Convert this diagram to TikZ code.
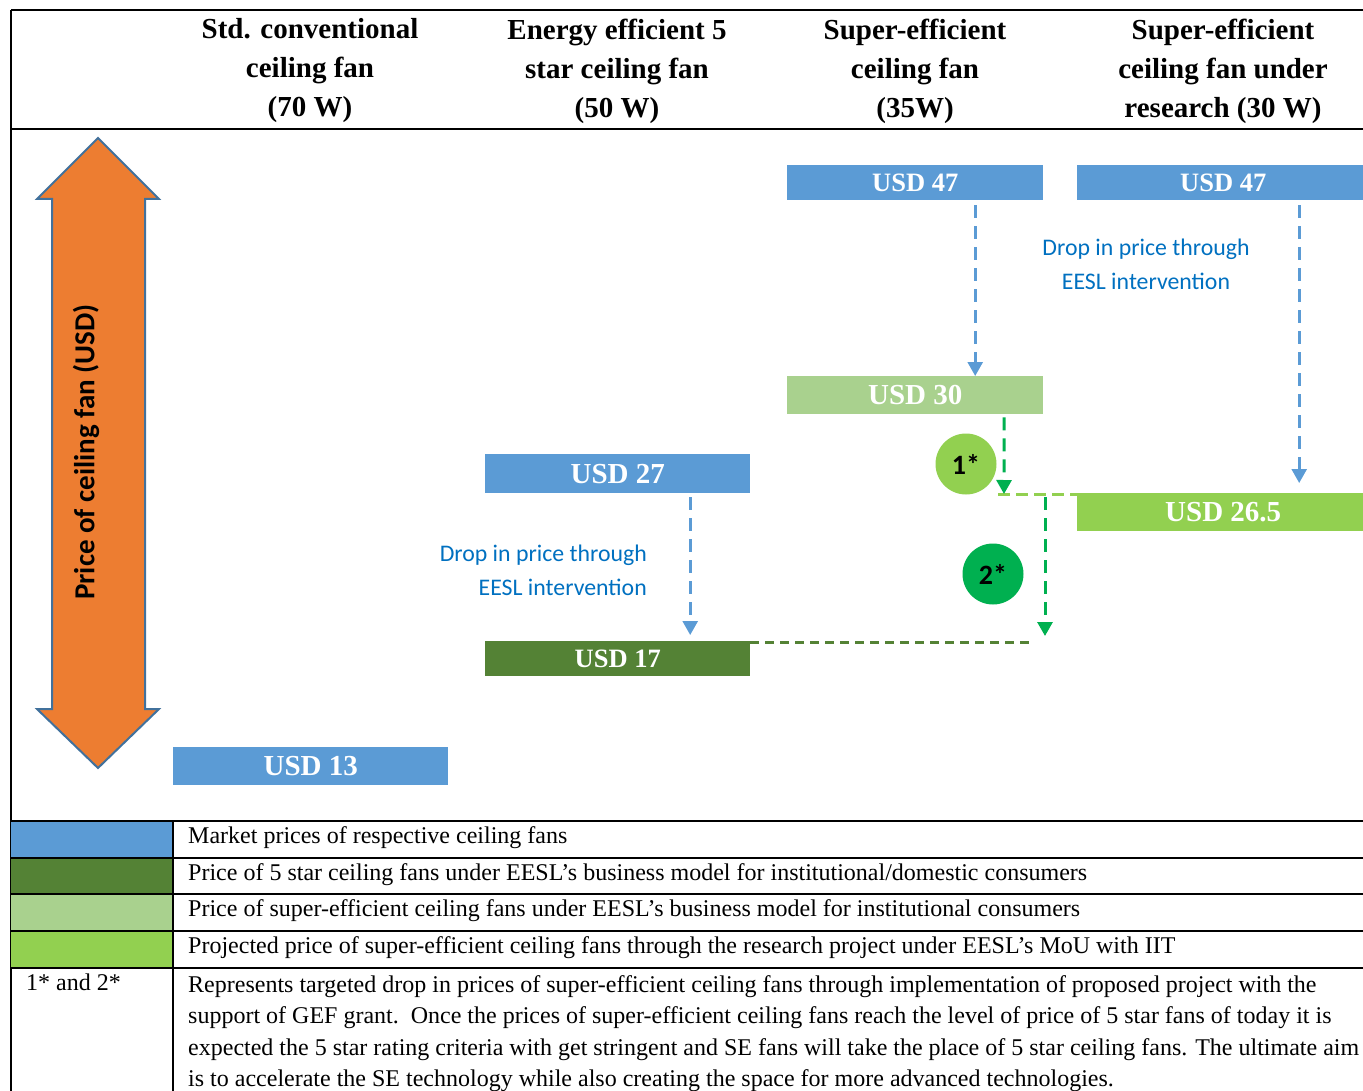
\documentclass[tikz,border=0pt]{standalone}
\usepackage{fontspec}
\setmainfont{Liberation Serif}
\newfontfamily\calib{Carlito}
\usetikzlibrary{arrows.meta}
\definecolor{mktblue}{HTML}{5B9BD5}
\definecolor{darkgr}{HTML}{548235}
\definecolor{palegr}{HTML}{A9D18E}
\definecolor{limegr}{HTML}{92D050}
\definecolor{brightgr}{HTML}{00B050}
\definecolor{orng}{HTML}{ED7D31}
\definecolor{edgeblue}{HTML}{41719C}
\definecolor{txtblue}{HTML}{0070C0}

\begin{document}
\begin{tikzpicture}[x=1pt,y=-1pt,
  hdr/.style={align=center, inner sep=0pt, font=\bfseries\fontsize{29}{39}\selectfont},
  pricebox/.style={anchor=north west, inner sep=0pt, text=white,
    font=\bfseries\fontsize{29}{30}\selectfont},
  smallprice/.style={font=\bfseries\fontsize{26.5}{30}\selectfont},
  note/.style={text=txtblue, inner sep=0pt, font=\calib\fontsize{23.8}{34}\selectfont},
  badge/.style={circle, inner sep=0pt, minimum size=61pt,
    font=\calib\bfseries\fontsize{28}{30}\selectfont},
  legtext/.style={anchor=west, inner sep=0pt, text height=16pt, text depth=5pt,
    font=\fontsize{24}{31.5}\selectfont},
  rule/.style={line width=2.2pt},
  bluedash/.style={draw=mktblue, line width=2.6pt, dash pattern=on 13pt off 8pt,
    -{Triangle[width=15pt,length=14pt]}},
  greendash/.style={draw=brightgr, line width=3pt, dash pattern=on 13pt off 8pt,
    -{Triangle[width=15pt,length=14pt]}}
]
\useasboundingbox (0,0) rectangle (1363,1091);

% column headings
\node[hdr] (h1) at (310,71) {Std. conventional\\ceiling fan\\(70 W)};
\node[hdr] (h2) at (617,71) {Energy efficient 5\\star ceiling fan\\(50 W)};
\node[hdr] (h3) at (915,71) {Super-efficient\\ceiling fan\\(35W)};
\node[hdr] (h4) at (1223,71) {Super-efficient\\ceiling fan under\\research (30 W)};

% table frame
\draw[rule] (11,10) -- (1363,10);
\draw[rule] (11,129) -- (1363,129);
\draw[rule] (11,10) -- (11,1091);

% price axis
\draw[fill=orng, draw=edgeblue, line width=2pt]
  (98,138) -- (159,199) -- (145,199) -- (145,709) -- (159,709) -- (98,768)
  -- (37,709) -- (52,709) -- (52,199) -- (37,199) -- cycle;
\node[rotate=90, inner sep=0pt, font=\calib\bfseries\fontsize{29}{34}\selectfont]
  (ylab) at (86,452) {Price of ceiling fan (USD)};

% price bars
\node[pricebox, fill=mktblue, minimum width=275pt, minimum height=38pt] (p13) at (173,747) {USD 13};
\node[pricebox, fill=mktblue, minimum width=265pt, minimum height=39pt] (p27) at (485,454) {USD 27};
\node[pricebox, smallprice, fill=darkgr, minimum width=265pt, minimum height=35pt] (p17) at (485,641) {USD 17};
\node[pricebox, smallprice, fill=mktblue, minimum width=256pt, minimum height=35pt] (p47a) at (787,165) {USD 47};
\node[pricebox, fill=palegr, minimum width=256pt, minimum height=38pt] (p30) at (787,376) {USD 30};
\node[pricebox, smallprice, fill=mktblue, minimum width=292pt, minimum height=35pt] (p47b) at (1077,165) {USD 47};
\node[pricebox, fill=limegr, minimum width=292pt, minimum height=38pt] (p265) at (1077,493) {USD 26.5};

% notes
\node[note, align=center] (n1) at (1146,264) {Drop in price through\\EESL intervention};
\node[note, align=right, anchor=east] (n2) at (647,570) {Drop in price through\\EESL intervention};

% targeted drops
\node[badge, fill=limegr] (b1) at (966,464) {1*};
\node[badge, fill=brightgr] (b2) at (993,574) {2*};

\coordinate (j1) at (998,494);
\coordinate (j2) at (1045,636);
\coordinate (j3) at (1033,642);

% EESL price drops
\draw[bluedash] ([xshift=60pt,yshift=-5pt]p47a.south) -- ([xshift=60pt]p30.north);
\draw[bluedash] ([xshift=76pt,yshift=-5pt]p47b.south) -- ([xshift=76pt,yshift=10pt]p265.north);
\draw[bluedash] ([xshift=72.5pt,yshift=-4pt]p27.south) -- ([xshift=72.5pt,yshift=6pt]p17.north);

% projected drops
\draw[draw=limegr, line width=3pt, dash pattern=on 12pt off 6pt] (j1) -- ([yshift=-1pt]p265.north west);
\draw[draw=darkgr, line width=3pt, dash pattern=on 9pt off 6pt] ([yshift=-1pt]p17.north east) -- (j3);
\draw[greendash] ([xshift=89pt,yshift=-3pt]p30.south) -- ([xshift=6pt]j1);
\draw[greendash] ([xshift=47pt,yshift=-3pt]j1) -- (j2);

% legend
\fill[mktblue] (11,821) rectangle (173,858);
\fill[darkgr] (11,858) rectangle (173,894);
\fill[palegr] (11,894) rectangle (173,931);
\fill[limegr] (11,931) rectangle (173,968);
\foreach \yy in {821,858,894,931,968} \draw[rule] (11,\yy) -- (1363,\yy);
\draw[rule] (173,821) -- (173,1091);

\node[legtext] (l1) at (188,838) {Market prices of respective ceiling fans};
\node[legtext] (l2) at (188,875) {Price of 5 star ceiling fans under EESL’s business model for institutional/domestic consumers};
\node[legtext] (l3) at (188,911) {Price of super-efficient ceiling fans under EESL’s business model for institutional consumers};
\node[legtext] (l4) at (188,948) {Projected price of super-efficient ceiling fans through the research project under EESL’s MoU with IIT};

\node[legtext] (l5) at (26,985) {1* and 2*};
\node[anchor=north west, inner sep=0pt, align=left, font=\fontsize{24}{31.5}\selectfont] (l6) at (188,975)
  {Represents targeted drop in prices of super-efficient ceiling fans through implementation of proposed project with the\\
   support of GEF grant.\ \ Once the prices of super-efficient ceiling fans reach the level of price of 5 star fans of today it is\\
   expected the 5 star rating criteria with get stringent and SE fans will take the place of 5 star ceiling fans. The ultimate aim\\
   is to accelerate the SE technology while also creating the space for more advanced technologies.};
\end{tikzpicture}
\end{document}
